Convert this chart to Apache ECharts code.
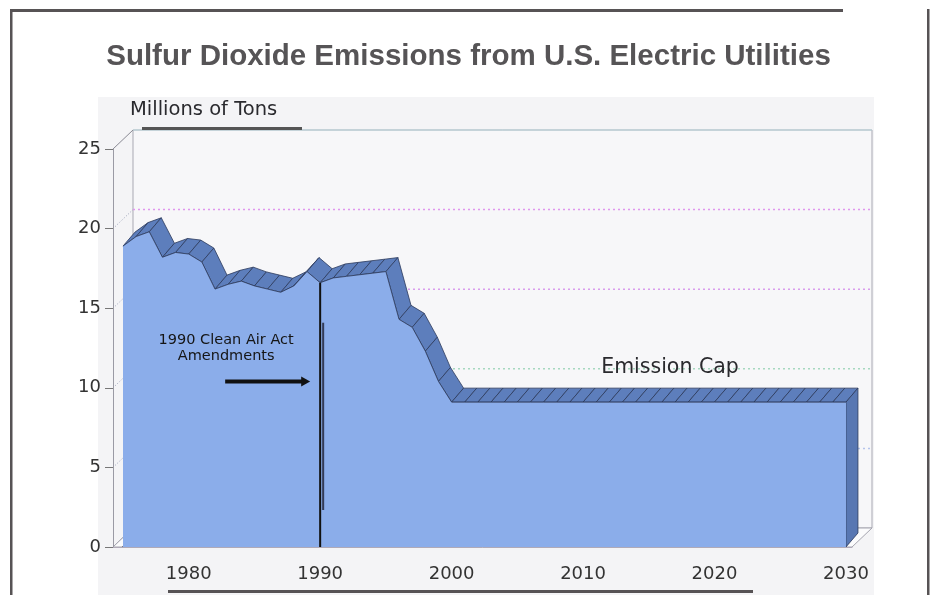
<!DOCTYPE html>
<html>
<head>
<meta charset="utf-8">
<script src="https://cdn.jsdelivr.net/npm/echarts@6/dist/echarts.min.js"></script>
<style>
  html, body { margin: 0; padding: 0; background: #fff; }
  #chart { width: 937px; height: 595px; }
</style>
</head>
<body>
<div id="chart"></div>
<script>
// data (millions of tons, front face of the slab)
const years = [1975, 1976, 1977, 1978, 1979, 1980, 1981, 1982, 1983, 1984,
  1985, 1986, 1987, 1988, 1989, 1990, 1991, 1992, 1993, 1994,
  1995, 1996, 1997, 1998, 1999, 2000, 2001, 2002, 2003, 2004,
  2005, 2006, 2007, 2008, 2009, 2010, 2011, 2012, 2013, 2014,
  2015, 2016, 2017, 2018, 2019, 2020, 2021, 2022, 2023, 2024,
  2025, 2026, 2027, 2028, 2029, 2030]
const emissions = [18.9, 19.5, 19.8, 18.2, 18.5, 18.4, 17.9, 16.2, 16.5, 16.7,
  16.4, 16.2, 16.0, 16.4, 17.3, 16.6, 16.9, 17.0, 17.1, 17.2,
  17.3, 14.3, 13.8, 12.3, 10.4, 9.1, 9.1, 9.1, 9.1, 9.1,
  9.1, 9.1, 9.1, 9.1, 9.1, 9.1, 9.1, 9.1, 9.1, 9.1,
  9.1, 9.1, 9.1, 9.1, 9.1, 9.1, 9.1, 9.1, 9.1, 9.1,
  9.1, 9.1, 9.1, 9.1, 9.1, 9.1]
const xLabels = [1980, 1990, 2000, 2010, 2020, 2030]
const yTicks = [0, 5, 10, 15, 20, 25]
const actYear = 1990

const frontColor = '#8badea'
const topColor = '#5d7ebc'
const sideColor = '#5877b2'
const edgeColor = '#2c3a5c'
const slab = [12, -14]   // depth of the area slab in px
const wall = [20, -19]   // depth of the chart box in px
const xMin = 1974.24, xMax = 2030.46

const chart = echarts.init(document.getElementById('chart'))

const pts = years.map((y, i) => [y, emissions[i]])
const segs = years.slice(0, -1).map((y, i) => [y, emissions[i], years[i + 1], emissions[i + 1]])
const last = pts[pts.length - 1]

chart.setOption({
  animation: false,
  title: {
    text: 'Sulfur Dioxide Emissions from U.S. Electric Utilities',
    left: 'center', top: 37,
    textStyle: { fontFamily: 'Liberation Sans', fontSize: 29.5, fontWeight: 'bold', color: '#565456' }
  },
  grid: { left: 113, right: 85, top: 149, bottom: 48 },
  xAxis: {
    type: 'value', min: xMin, max: xMax,
    axisLine: { show: true, lineStyle: { color: '#b0aab8', width: 1 } },
    axisTick: { show: false },
    splitLine: { show: false },
    axisLabel: {
      customValues: xLabels, margin: 18,
      formatter: v => String(v),
      fontFamily: 'DejaVu Sans', fontSize: 18, color: '#333'
    }
  },
  yAxis: {
    type: 'value', min: 0, max: 25, interval: 5,
    axisLine: { show: true, lineStyle: { color: '#9a9aa4' } },
    axisTick: { show: true, length: 8, lineStyle: { color: '#777' } },
    splitLine: { show: false },
    axisLabel: { margin: 12, fontFamily: 'DejaVu Sans', fontSize: 18, color: '#333' }
  },
  series: [
    {
      // top face of the slab, one quad per year
      type: 'custom', clip: false, z: 3,
      encode: { x: [0, 2], y: [1, 3] },
      data: segs,
      renderItem(params, api) {
        const a = api.coord([api.value(0), api.value(1)])
        const b = api.coord([api.value(2), api.value(3)])
        return {
          type: 'polygon',
          shape: { points: [a, b, [b[0] + slab[0], b[1] + slab[1]], [a[0] + slab[0], a[1] + slab[1]]] },
          style: { fill: topColor, stroke: edgeColor, lineWidth: 0.8 }
        }
      }
    },
    {
      // right side of the slab
      type: 'custom', clip: false, z: 3,
      data: [last],
      renderItem(params, api) {
        const t = api.coord([api.value(0), api.value(1)])
        const b = api.coord([api.value(0), 0])
        return {
          type: 'polygon',
          shape: { points: [t, b, [b[0] + slab[0], b[1] + slab[1]], [t[0] + slab[0], t[1] + slab[1]]] },
          style: { fill: sideColor, stroke: edgeColor, lineWidth: 0.8 }
        }
      }
    },
    {
      // front face
      type: 'line', z: 4, data: pts, symbol: 'none',
      lineStyle: { color: edgeColor, width: 0.8 },
      areaStyle: { color: frontColor, opacity: 1 }
    }
  ]
})

// box walls, floor and annotations from the axes' own scale
const px = v => chart.convertToPixel({ gridIndex: 0 }, v)
const fl = px([xMin, 0]), fr = px([xMax, 0]), tl = px([xMin, 25])
const g = []

g.push({ type: 'rect', z: -10, shape: { x: 98, y: 97, width: 776, height: 498 }, style: { fill: '#f4f4f6' } })
// back wall
g.push({ type: 'rect', z: -5, shape: { x: tl[0] + wall[0], y: tl[1] + wall[1], width: fr[0] - fl[0], height: fl[1] - tl[1] },
  style: { fill: '#f7f7f9', stroke: '#a9a9b3', lineWidth: 1 } })
g.push({ type: 'line', z: -4, shape: { x1: tl[0] + wall[0], y1: tl[1] + wall[1], x2: fr[0] + wall[0], y2: tl[1] + wall[1] },
  style: { stroke: '#b9d6dc', lineWidth: 1.2 } })
const gridCols = { 5: '#b5c4ec', 10: '#a6d8c0', 15: '#d99ced', 20: '#e096ee' }
yTicks.slice(1, -1).forEach(v => {
  const a = px([xMin, v])
  g.push({ type: 'line', z: -4, shape: { x1: a[0] + wall[0], y1: a[1] + wall[1], x2: fr[0] + wall[0], y2: a[1] + wall[1] },
    style: { stroke: gridCols[v], lineWidth: 1.5, lineDash: [2, 3] } })
})
// left wall
yTicks.forEach(v => {
  const a = px([xMin, v])
  g.push({ type: 'line', z: -3, shape: { x1: a[0], y1: a[1], x2: a[0] + wall[0], y2: a[1] + wall[1] },
    style: { stroke: v === 25 || v === 0 ? '#8a8a94' : '#9aa0b8', lineWidth: 1, lineDash: v === 25 || v === 0 ? null : [1, 2] } })
})
// floor
g.push({ type: 'polygon', z: -3, shape: { points: [fl, fr, [fr[0] + wall[0], fr[1] + wall[1]], [fl[0] + wall[0], fl[1] + wall[1]]] },
  style: { fill: '#fbfbfc', stroke: '#a6a6b0', lineWidth: 1 } })
years.forEach(y => {
  const a = px([y, 0])
  g.push({ type: 'line', z: -2, shape: { x1: a[0] - 2, y1: a[1] + 1, x2: a[0] + 3, y2: a[1] - 4 },
    style: { stroke: '#7a7a84', lineWidth: 1 } })
})

// 1990 marker
const act = px([actYear, emissions[years.indexOf(actYear)]]), actB = px([actYear, 0])
g.push({ type: 'line', z: 20, shape: { x1: act[0], y1: act[1], x2: actB[0], y2: actB[1] }, style: { stroke: '#111', lineWidth: 2 } })
g.push({ type: 'line', z: 20, shape: { x1: act[0] + 3, y1: act[1] + 40, x2: actB[0] + 3, y2: actB[1] - 37 }, style: { stroke: '#333a55', lineWidth: 2 } })
const arrowY = px([actYear, 10.4])[1]
g.push({ type: 'line', z: 20, shape: { x1: act[0] - 95, y1: arrowY, x2: act[0] - 18, y2: arrowY }, style: { stroke: '#111', lineWidth: 4 } })
g.push({ type: 'polygon', z: 20, shape: { points: [[act[0] - 19, arrowY - 5], [act[0] - 10, arrowY], [act[0] - 19, arrowY + 5]] }, style: { fill: '#111' } })
g.push({ type: 'text', z: 20, x: act[0] - 94, y: 340, style: { text: '1990 Clean Air Act', fontFamily: 'DejaVu Sans', fontSize: 14.5, fill: '#151515', align: 'center', verticalAlign: 'middle' } })
g.push({ type: 'text', z: 20, x: act[0] - 94, y: 356, style: { text: 'Amendments', fontFamily: 'DejaVu Sans', fontSize: 14.5, fill: '#151515', align: 'center', verticalAlign: 'middle' } })
g.push({ type: 'text', z: 20, x: 670, y: 368, style: { text: 'Emission Cap', fontFamily: 'DejaVu Sans', fontSize: 20.5, fill: '#2a2a2e', align: 'center', verticalAlign: 'middle' } })

// axis title
g.push({ type: 'text', z: 20, x: 130, y: 110, style: { text: 'Millions of Tons', fontFamily: 'DejaVu Sans', fontSize: 19.5, fill: '#2a2a2e', verticalAlign: 'middle' } })
g.push({ type: 'rect', z: 20, shape: { x: 142, y: 127, width: 160, height: 3 }, style: { fill: '#555' } })

// outer frame
g.push({ type: 'rect', shape: { x: 10, y: 9, width: 833, height: 3 }, style: { fill: '#575355' } })
g.push({ type: 'rect', shape: { x: 10, y: 9, width: 2.5, height: 586 }, style: { fill: '#575355' } })
g.push({ type: 'rect', shape: { x: 927, y: 9, width: 2.5, height: 586 }, style: { fill: '#575355' } })
g.push({ type: 'rect', shape: { x: 168, y: 590, width: 585, height: 3 }, style: { fill: '#575355' } })

chart.setOption({ graphic: { elements: g } })
</script>
</body>
</html>
